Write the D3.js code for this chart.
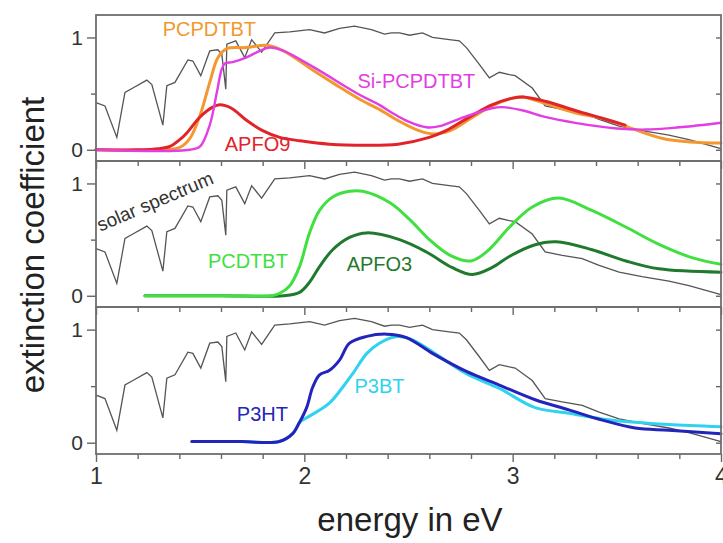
<!DOCTYPE html>
<html>
<head>
<meta charset="utf-8">
<script src="https://cdn.jsdelivr.net/npm/d3@7"></script>
<style>
  body { margin: 0; background: #fff; }
  svg { display: block; font-family: "Liberation Sans", Arial, sans-serif; }
</style>
</head>
<body>
<svg id="chart" width="723" height="543"></svg>
<script>
"use strict";

// solar spectrum (same trace in every panel), energy in eV / scaled intensity
var solarE = [1.0, 1.043, 1.10, 1.139, 1.177, 1.244, 1.268, 1.321, 1.340, 1.379, 1.441, 1.465, 1.503,
  1.546, 1.585, 1.604, 1.623, 1.628, 1.671, 1.714, 1.747, 1.795, 1.858, 1.930, 2.025, 2.097, 2.169,
  2.241, 2.322, 2.385, 2.418, 2.457, 2.505, 2.567, 2.615, 2.696, 2.744, 2.778, 2.840, 2.888, 2.936,
  2.984, 3.012, 3.094, 3.156, 3.238, 3.334, 3.415, 3.511, 3.621, 3.750, 3.846, 3.923, 4.0];
var solarV = [0.42, 0.39, 0.11, 0.51, 0.55, 0.62, 0.58, 0.22, 0.57, 0.60, 0.80, 0.79, 0.66,
  0.88, 0.89, 0.85, 0.54, 0.94, 0.97, 0.82, 0.98, 0.87, 1.04, 1.05, 1.07, 1.04, 1.08,
  1.10, 1.07, 1.03, 1.04, 1.04, 1.02, 1.04, 1.00, 0.98, 0.97, 0.91, 0.76, 0.64, 0.69,
  0.67, 0.66, 0.55, 0.39, 0.36, 0.33, 0.27, 0.21, 0.17, 0.13, 0.09, 0.05, 0.01];

// top panel
var pcpdtbt = [[1.0, 0], [1.3, 0], [1.4, 0.02], [1.45, 0.1], [1.5, 0.31], [1.546, 0.6], [1.585, 0.82],
  [1.628, 0.9], [1.72, 0.91], [1.82, 0.93], [1.9, 0.88], [2.04, 0.71], [2.15, 0.58], [2.265, 0.45],
  [2.36, 0.36], [2.45, 0.26], [2.55, 0.17], [2.62, 0.14], [2.7, 0.17], [2.8, 0.28], [2.9, 0.39],
  [3.0, 0.46], [3.05, 0.47], [3.16, 0.41], [3.3, 0.33], [3.45, 0.27], [3.57, 0.19], [3.72, 0.10],
  [3.85, 0.07], [4.0, 0.06]];
var siPcpdtbt = [[1.0, 0], [1.45, 0], [1.5, 0.03], [1.546, 0.22], [1.58, 0.51], [1.604, 0.72],
  [1.62, 0.77], [1.656, 0.78], [1.72, 0.82], [1.786, 0.88], [1.834, 0.91], [1.9, 0.88], [2.04, 0.74],
  [2.265, 0.49], [2.36, 0.40], [2.42, 0.33], [2.5, 0.25], [2.586, 0.2], [2.65, 0.21], [2.75, 0.28],
  [2.9, 0.37], [2.95, 0.38], [3.05, 0.35], [3.16, 0.29], [3.3, 0.24], [3.5, 0.19], [3.64, 0.18],
  [3.8, 0.2], [3.86, 0.21], [4.0, 0.24]];
var apfo9 = [[1.0, 0], [1.2, 0], [1.3, 0.01], [1.355, 0.03], [1.402, 0.09], [1.436, 0.15],
  [1.498, 0.29], [1.56, 0.38], [1.594, 0.40], [1.65, 0.37], [1.724, 0.26], [1.8, 0.17], [1.882, 0.11],
  [1.98, 0.08], [2.12, 0.05], [2.3, 0.04], [2.45, 0.05], [2.6, 0.11], [2.68, 0.17], [2.8, 0.30],
  [2.9, 0.40], [3.0, 0.46], [3.05, 0.47], [3.16, 0.43], [3.3, 0.35], [3.45, 0.27], [3.54, 0.22]];

// middle panel
var pcdtbt = [[1.235, 0], [1.6, 0], [1.84, 0.0], [1.88, 0.02], [1.93, 0.09], [1.977, 0.26],
  [2.025, 0.56], [2.073, 0.76], [2.136, 0.88], [2.217, 0.93], [2.28, 0.93], [2.409, 0.83],
  [2.505, 0.68], [2.6, 0.50], [2.7, 0.36], [2.8, 0.31], [2.88, 0.40], [2.984, 0.61], [3.094, 0.79],
  [3.22, 0.87], [3.38, 0.76], [3.545, 0.61], [3.70, 0.46], [3.86, 0.34], [4.0, 0.28]];
var apfo3 = [[1.235, 0], [1.6, 0], [1.9, 0.0], [1.977, 0.03], [2.025, 0.12], [2.073, 0.26],
  [2.136, 0.41], [2.217, 0.52], [2.30, 0.56], [2.457, 0.50], [2.586, 0.39], [2.711, 0.25],
  [2.806, 0.19], [2.9, 0.25], [2.984, 0.35], [3.1, 0.45], [3.209, 0.48], [3.381, 0.41],
  [3.544, 0.31], [3.702, 0.24], [4.0, 0.21]];

// bottom panel
var p3ht = [[1.46, 0.01], [1.7, 0.01], [1.88, 0.01], [1.944, 0.08], [1.977, 0.18], [2.011, 0.31],
  [2.04, 0.49], [2.073, 0.6], [2.121, 0.64], [2.169, 0.73], [2.217, 0.88], [2.3, 0.94], [2.394, 0.96],
  [2.49, 0.93], [2.615, 0.79], [2.778, 0.63], [2.936, 0.51], [3.108, 0.38], [3.27, 0.29],
  [3.43, 0.20], [3.588, 0.13], [3.75, 0.11], [4.0, 0.08]];
var p3bt = [[1.46, 0.01], [1.7, 0.01], [1.88, 0.01], [1.944, 0.08], [1.977, 0.18], [2.011, 0.22],
  [2.12, 0.35], [2.2, 0.53], [2.236, 0.62], [2.3, 0.79], [2.36, 0.88], [2.42, 0.93], [2.457, 0.94],
  [2.52, 0.91], [2.778, 0.61], [2.936, 0.48], [3.108, 0.31], [3.27, 0.26], [3.43, 0.21],
  [3.588, 0.18], [3.75, 0.16], [4.0, 0.14]];

var xTicks = [1, 2, 3, 4];
var yTicks = [0, 1];

var svg = d3.select("#chart");
var x = d3.scaleLinear().domain([1, 4]).range([96, 721]);

var panels = [
  { top: 15, height: 146,
    series: [ { data: pcpdtbt, color: "#f2982e", w: 3 },
              { data: apfo9, color: "#e0242a", w: 3 },
              { data: siPcpdtbt, color: "#e23ee2", w: 2.4 } ],
    labels: [ { text: "PCPDTBT", e: 1.32, k: 1.01, color: "#f2982e" },
              { text: "Si-PCPDTBT", e: 2.255, k: 0.55, color: "#e23ee2" },
              { text: "APFO9", e: 1.618, k: -0.01, color: "#e0242a" } ] },
  { top: 161, height: 146,
    series: [ { data: apfo3, color: "#1f7a2e", w: 3 },
              { data: pcdtbt, color: "#3fe03f", w: 3 } ],
    labels: [ { text: "PCDTBT", e: 1.537, k: 0.25, color: "#3fe03f" },
              { text: "APFO3", e: 2.203, k: 0.22, color: "#1f7a2e" } ] },
  { top: 307, height: 147,
    series: [ { data: p3bt, color: "#2fd2ef", w: 3 },
              { data: p3ht, color: "#2424bb", w: 3 } ],
    labels: [ { text: "P3HT", e: 1.676, k: 0.19, color: "#2424bb" },
              { text: "P3BT", e: 2.241, k: 0.44, color: "#2fd2ef" } ] }
];

var solar = solarE.map(function(e, i) { return [e, solarV[i]]; });

panels.forEach(function(p, pi) {
  var y = d3.scaleLinear().domain([-0.1, 1.2]).range([p.top + p.height, p.top]);
  var g = svg.append("g");

  var line = d3.line()
    .x(function(d) { return x(d[0]); })
    .y(function(d) { return y(d[1]); });

  // solar spectrum
  g.append("path")
    .datum(solar)
    .attr("d", line)
    .attr("fill", "none")
    .attr("stroke", "#555")
    .attr("stroke-width", 1.3);

  var smooth = d3.line()
    .x(function(d) { return x(d[0]); })
    .y(function(d) { return y(d[1]); })
    .curve(d3.curveCatmullRom.alpha(0.5));
  p.series.forEach(function(s) {
    g.append("path")
      .datum(s.data)
      .attr("d", smooth)
      .attr("fill", "none")
      .attr("stroke", s.color)
      .attr("stroke-width", s.w)
      .attr("stroke-linejoin", "round")
      .attr("stroke-linecap", "round");
  });

  p.labels.forEach(function(l) {
    g.append("text")
      .attr("x", x(l.e))
      .attr("y", y(l.k))
      .attr("fill", l.color)
      .attr("font-size", 20)
      .text(l.text);
  });

  // left axis: major and minor ticks
  var left = g.append("g").attr("transform", "translate(96,0)")
    .call(d3.axisLeft(y).tickValues(yTicks).tickSize(9).tickPadding(4).tickFormat(d3.format("d")));
  g.append("g").attr("transform", "translate(96,0)")
    .call(d3.axisLeft(y).tickValues([0.5]).tickSize(5).tickFormat(""));
  // right ticks, pointing inward
  g.append("g").attr("transform", "translate(721,0)")
    .call(d3.axisLeft(y).tickValues([0, 0.5, 1]).tickSize(5).tickFormat(""));

  // bottom ticks, pointing down
  var bottom = g.append("g").attr("transform", "translate(0," + (p.top + p.height) + ")")
    .call(d3.axisBottom(x).tickValues(xTicks).tickSize(8).tickPadding(6)
      .tickFormat(pi === 2 ? d3.format("d") : ""));
  g.append("g").attr("transform", "translate(0," + (p.top + p.height) + ")")
    .call(d3.axisBottom(x).tickValues(d3.range(1.2, 4, 0.2).filter(function(v) {
      return Math.abs(v - Math.round(v)) > 0.01; })).tickSize(5).tickFormat(""));

  left.selectAll("text").attr("font-size", 21).attr("fill", "#333");
  bottom.selectAll("text").attr("font-size", 23).attr("fill", "#333");
  g.selectAll(".domain").remove();
  g.selectAll(".tick line").attr("stroke", "#666").attr("stroke-width", 1.4);

  // frame
  g.append("rect")
    .attr("x", 96).attr("y", p.top)
    .attr("width", 721 - 96).attr("height", p.height)
    .attr("fill", "none")
    .attr("stroke", "#6e6e6e")
    .attr("stroke-width", 1.8);

  if (pi === 1) {
    g.append("text")
      .attr("transform", "translate(" + x(1.02) + "," + y(0.57) + ") rotate(-23)")
      .attr("fill", "#333")
      .attr("font-size", 19)
      .text("solar spectrum");
  }
});

// axis titles
svg.append("text")
  .attr("transform", "translate(44,245) rotate(-90)")
  .attr("text-anchor", "middle")
  .attr("font-size", 33)
  .attr("fill", "#222")
  .text("extinction coefficient");

svg.append("text")
  .attr("x", 410).attr("y", 531)
  .attr("text-anchor", "middle")
  .attr("font-size", 33)
  .attr("fill", "#222")
  .text("energy in eV");
</script>
</body>
</html>
